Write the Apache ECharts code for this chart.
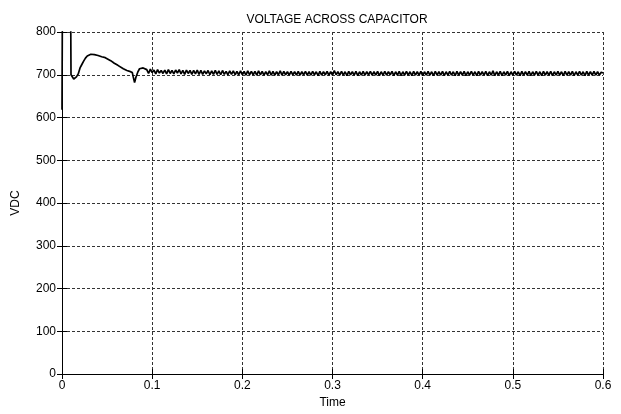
<!DOCTYPE html>
<html>
<head>
<meta charset="utf-8">
<script src="https://cdn.jsdelivr.net/npm/echarts@6/dist/echarts.min.js"></script>
<style>html,body{margin:0;padding:0;background:#fff}#c{width:621px;height:414px}</style>
</head>
<body>
<div id="c"></div>
<script>
const titleText = 'VOLTAGE ACROSS CAPACITOR';
const xName = 'Time';
const yName = 'VDC';
const xTicks = [0, 0.1, 0.2, 0.3, 0.4, 0.5, 0.6];
const yTicks = [0, 100, 200, 300, 400, 500, 600, 700, 800];

// start-up transient: [time, volts]
const startTimes = [0, 0.0005, 0.0095, 0.0100, 0.011, 0.012, 0.013, 0.0145, 0.016, 0.018, 0.019, 0.020, 0.022, 0.024, 0.026, 0.028, 0.030, 0.032, 0.034, 0.036, 0.040, 0.044, 0.048, 0.050, 0.054, 0.058, 0.062, 0.064, 0.068, 0.072, 0.075, 0.078, 0.079, 0.0805, 0.082, 0.084, 0.086, 0.088, 0.090, 0.092];
const startVolts = [618, 900, 900, 700, 700, 698, 690, 686, 695, 702, 700, 716, 724, 732, 739, 744, 747, 748, 747, 747, 745, 742, 740, 739, 733, 727, 722, 719, 714, 710, 708, 705, 695, 682, 694, 706, 714, 718, 716, 712];

// steady-state ripple sampled every 2 ms from 0.094 s
const tailStart = 0.094;
const tailStep = 0.002;
const tailVolts = [
712,703,713,705,711,702,712,704,710,703,
711,702,712,703,710,702,711,704,712,702,
710,701,711,703,710,701,710,702,711,701,
710,701,709,702,710,700,709,701,710,701,
709,700,710,701,708,700,709,701,709,700,
708,700,709,700,708,699,709,700,708,700,
708,699,709,700,708,699,707,700,709,699,
708,699,707,700,709,699,708,700,707,699,
708,700,707,699,708,699,707,700,708,699,
707,699,708,700,707,698,708,699,707,700,
708,699,707,699,710,700,707,699,708,699,
707,698,708,700,707,699,708,698,707,699,
708,699,707,700,708,699,707,699,708,698,
707,699,708,699,707,700,708,698,707,699,
708,698,707,699,708,699,707,698,708,699,
707,699,708,698,707,699,708,699,707,698,
708,699,707,699,708,698,707,699,708,699,
707,698,708,699,707,699,708,698,707,699,
708,699,707,698,708,699,707,699,708,698,
707,699,709,698,707,699,708,698,707,699,
708,698,707,699,708,699,707,698,708,699,
707,699,708,698,707,699,708,699,707,698,
708,699,707,699,708,698,707,699,708,699,
707,698,708,699,707,699,708,698,707,699,
708,699,707,698,708,699,707,699,708,699,
707,699,706,704
];

const data = [];
startTimes.forEach((t, i) => data.push([t, startVolts[i]]));
tailVolts.forEach((v, i) => data.push([+(tailStart + i * tailStep).toFixed(4), v]));

const font = 'Liberation Sans';
const gridLine = { show: true, lineStyle: { color: '#333', type: [3, 2], width: 1 } };
const chart = echarts.init(document.getElementById('c'));
chart.setOption({
  animation: false,
  backgroundColor: '#fff',
  title: { text: titleText, left: 332, top: 9, textAlign: 'center',
    textStyle: { fontFamily: font, fontSize: 12, fontWeight: 'normal', color: '#000' } },
  grid: { left: 62, right: 18, top: 32, bottom: 33 },
  xAxis: [
    { type: 'value', min: xTicks[0], max: xTicks[xTicks.length - 1], interval: 0.1,
      name: xName, nameLocation: 'middle', nameGap: 23,
      nameTextStyle: { fontFamily: font, fontSize: 12, color: '#000' },
      axisLine: { show: true, lineStyle: { color: '#000', width: 1 } },
      axisTick: { show: true, inside: true, length: 5, lineStyle: { color: '#000' } },
      axisLabel: { fontFamily: font, fontSize: 12, color: '#000', margin: 6,
        formatter: v => xTicks.includes(+v.toFixed(1)) ? String(+v.toFixed(1)) : '' },
      splitLine: gridLine },
    { type: 'value', position: 'top', min: 0, max: 0.6, interval: 0.1,
      axisLine: { show: true, lineStyle: { color: '#000', width: 1 } },
      axisTick: { show: true, inside: true, length: 5, lineStyle: { color: '#000' } },
      axisLabel: { show: false }, splitLine: { show: false } }
  ],
  yAxis: [
    { type: 'value', min: yTicks[0], max: yTicks[yTicks.length - 1], interval: 100,
      name: yName, nameLocation: 'middle', nameGap: 40,
      nameTextStyle: { fontFamily: font, fontSize: 12, color: '#000' },
      axisLine: { show: true, lineStyle: { color: '#000', width: 1 } },
      axisTick: { show: true, inside: true, length: 5, lineStyle: { color: '#000' } },
      axisLabel: { fontFamily: font, fontSize: 12, color: '#000', margin: 6 },
      splitLine: gridLine },
    { type: 'value', position: 'right', min: 0, max: 800, interval: 100,
      axisLine: { show: true, lineStyle: { color: '#000', width: 1 } },
      axisTick: { show: true, inside: true, length: 5, lineStyle: { color: '#000' } },
      axisLabel: { show: false }, splitLine: { show: false } }
  ],
  series: [{
    type: 'line', data: data, xAxisIndex: 0, yAxisIndex: 0,
    showSymbol: false, clip: true, sampling: 'none',
    lineStyle: { color: '#000', width: 1.7 }
  }]
});
</script>
</body>
</html>
